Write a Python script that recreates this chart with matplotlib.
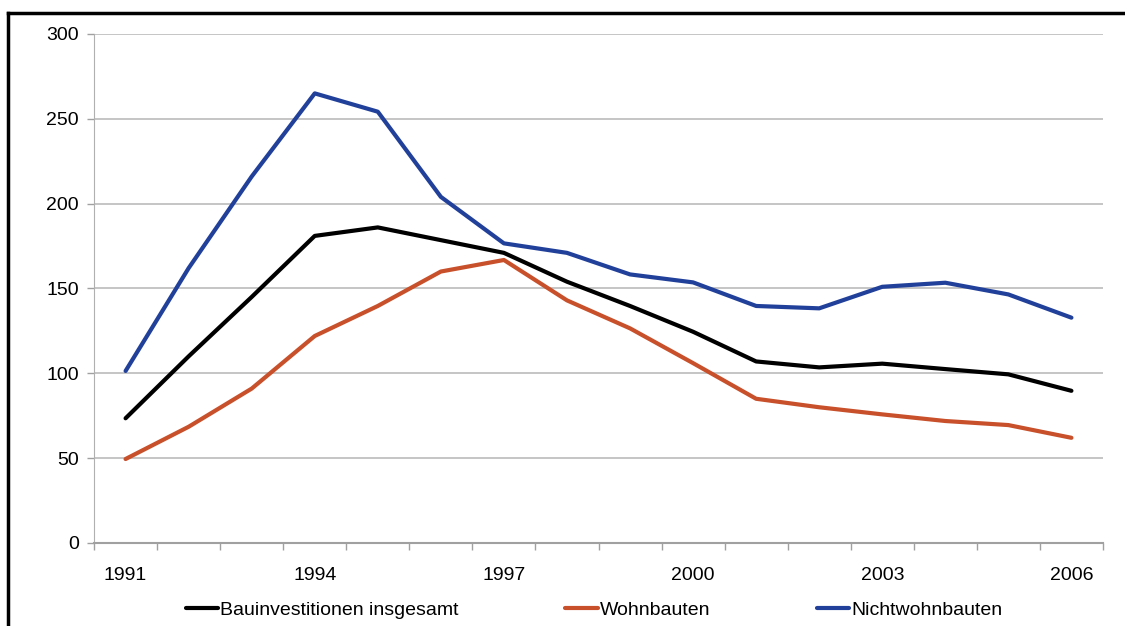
import numpy as np
import matplotlib
matplotlib.use("Agg")
import matplotlib.pyplot as plt
from matplotlib.lines import Line2D

plt.rcParams['font.family'] = ['Liberation Sans', 'DejaVu Sans']

years = list(range(1991, 2007))
gesamt = [73.5, 110, 145, 181, 186, 178.5, 171, 154, 139.7, 124.5, 107, 103.5, 105.7, 102.5, 99.4, 89.7]
wohnbauten = [49.5, 68.5, 91, 122, 139.7, 160, 166.8, 143, 126.5, 106, 85, 80, 75.8, 71.9, 69.5, 62]
nichtwohnbauten = [101.4, 162, 216, 265, 254.2, 204, 176.6, 171, 158.3, 153.6, 139.7, 138.3, 151, 153.4, 146.5, 132.8]
tick_years = [1991, 1994, 1997, 2000, 2003, 2006]

fig = plt.figure(figsize=(11.25, 6.26), dpi=100)
ax = fig.add_axes([0.0836, 0.1326, 0.8968, 0.8131])

x = np.arange(len(years))
ax.plot(x, gesamt, color='black', lw=3, solid_capstyle='round', label='Bauinvestitionen insgesamt', zorder=3)
ax.plot(x, wohnbauten, color='#C8502A', lw=3, solid_capstyle='round', label='Wohnbauten', zorder=3)
ax.plot(x, nichtwohnbauten, color='#21409A', lw=3, solid_capstyle='round', label='Nichtwohnbauten', zorder=3)

ax.set_xlim(-0.5, len(years) - 0.5)
ax.set_ylim(0, 300)
ax.set_yticks(range(0, 301, 50))
ax.grid(axis='y', color='#C0C0C0', lw=1.3)
ax.set_axisbelow(True)

ax.set_xticks([years.index(y) for y in tick_years])
ax.set_xticklabels([str(y) for y in tick_years])
ax.set_xticks(np.arange(-0.5, len(years), 1), minor=True)
ax.tick_params(axis='x', which='major', length=0, pad=17, labelsize=14)
ax.tick_params(axis='x', which='minor', length=5, color='#A0A0A0', width=1, direction='out')
ax.tick_params(axis='y', length=5, color='#A0A0A0', width=1, labelsize=14, pad=6)

for s in ['top', 'right']:
    ax.spines[s].set_visible(False)
ax.spines['left'].set_color('#B0B0B0')
ax.spines['bottom'].set_color('#A0A0A0')
ax.spines['bottom'].set_linewidth(1.5)

fig.legend(loc='center', bbox_to_anchor=(0.528, 0.025), ncol=3, frameon=False,
           fontsize=14, handlelength=1.65, handletextpad=0.1, columnspacing=5.5)

# outer frame (top and left visible)
fig.add_artist(Line2D([0.0071, 1.0], [0.979, 0.979], color='black', lw=2.5, transform=fig.transFigure))
fig.add_artist(Line2D([0.0071, 0.0071], [0.0, 0.979], color='black', lw=2.5, transform=fig.transFigure))

fig.savefig('out.png', dpi=100)
